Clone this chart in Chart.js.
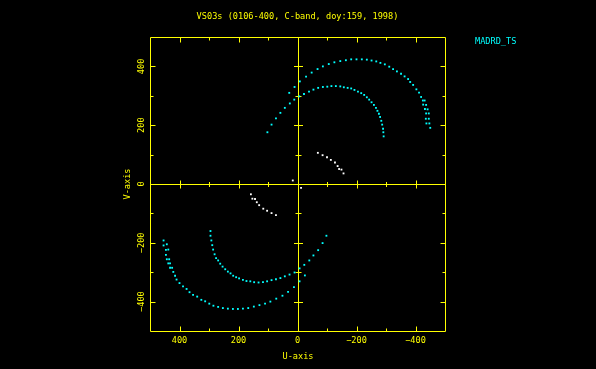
<!DOCTYPE html>
<html>
<head>
<meta charset="utf-8">
<script src="https://cdn.jsdelivr.net/npm/chart.js@4/dist/chart.umd.min.js"></script>
<style>
  html, body { margin: 0; padding: 0; background: #000; overflow: hidden; }
  #wrap { width: 596px; height: 369px; position: relative; }
</style>
</head>
<body>
<div id="wrap"><canvas id="uv"></canvas></div>
<script>
// uv coverage, VS03s  (u,v in the plot units)
var titulo = "VS03s (0106-400, C-band, doy:159, 1998)";
var estacion = "MADRD_TS";
var ejeU = "U-axis";
var ejeV = "V-axis";
var marcas = [-400, -200, 0, 200, 400];

// arco interior, mitad superior
var supIntU = [102, 88, 73, 58, 43, 26, 11, -6, -22, -39, -54, -70, -86, -101, -115, -130, -145, -157, -170, -182, -193, -205, -216, -226, -235, -243, -251, -259, -266, -271, -276, -280, -284, -287, -290, -291, -292];
var supIntV = [176, 202, 223, 242, 259, 274, 287, 298, 306, 314, 321, 327, 330, 331, 333, 333, 332, 329, 327, 325, 320, 314, 309, 303, 295, 287, 278, 269, 259, 249, 239, 228, 215, 202, 188, 176, 162];

// arco exterior, mitad superior
var supExtU = [28, 10, -8, -29, -48, -68, -86, -106, -125, -145, -164, -182, -200, -218, -235, -251, -267, -281, -296, -311, -324, -337, -351, -363, -375, -382, -392, -403, -412, -419, -425, -426, -432, -436, -435, -437, -450];
var supExtV = [310, 330, 349, 365, 379, 391, 400, 408, 414, 418, 421, 424, 424, 424, 423, 420, 417, 412, 407, 399, 391, 383, 375, 366, 357, 347, 337, 322, 311, 296, 284, 270, 255, 240, 222, 206, 191];
var supExt2U = [-431, -436, -441, -445, -445, -447];
var supExt2V = [284, 269, 254, 240, 222, 206];

// arco interior, mitad inferior
var infIntU = [295, 295, 292, 289, 286, 281, 276, 269, 262, 254, 245, 236, 227, 218, 208, 198, 185, 173, 160, 147, 132, 117, 103, 88, 73, 58, 43, 27, 10, -7, -23, -40, -54, -70, -85, -98];
var infIntV = [-160, -176, -192, -208, -223, -239, -252, -260, -271, -281, -290, -298, -304, -312, -317, -321, -326, -330, -331, -334, -335, -334, -331, -327, -324, -320, -314, -308, -301, -287, -275, -260, -243, -225, -201, -176];

// arco exterior, mitad inferior
var infExtU = [454, 454, 446, 446, 443, 438, 432, 421, 415, 410, 400, 388, 376, 366, 354, 340, 326, 313, 299, 285, 269, 253, 236, 219, 202, 185, 167, 148, 129, 110, 92, 72, 51, 32, 12, -7, -25];
var infExtV = [-192, -209, -224, -241, -256, -270, -285, -299, -312, -325, -337, -348, -357, -368, -377, -383, -394, -399, -407, -414, -418, -422, -424, -425, -425, -424, -422, -417, -412, -407, -400, -390, -380, -367, -351, -331, -311];
var infExt2U = [443, 438, 435, 432, 425];
var infExt2V = [-205, -223, -256, -270, -285];

// puntos blancos (linea corta)
var blancoU = [-69, -85, -100, -113, -127, -136, -141, -149, -156, 16, -12, 158, 153, 144, 138, 130, 116, 103, 88, 73];
var blancoV = [106, 98, 91, 82, 73, 61, 51, 49, 36, 12, -13, -35, -50, -51, -62, -72, -84, -91, -99, -106];

var AMARILLO = "#ffff00";
var CIAN = "#00ffff";
var BLANCO = "#ffffff";
var FAMILIA = "'DejaVu Sans Mono', 'Liberation Mono', monospace";
var FUENTE = "8.6px " + FAMILIA;

function juntar(u, v) {
  var out = [];
  for (var i = 0; i < u.length; i++) out.push({x: u[i], y: v[i]});
  return out;
}

function serie(nombre, u, v, color) {
  return {
    label: nombre,
    data: juntar(u, v),
    pointStyle: 'rect',
    pointRadius: 1.3,
    borderWidth: 0,
    backgroundColor: color,
    showLine: false
  };
}

//// marco, ejes centrales, marcas y textos al estilo pgplot
var marcoPgplot = {
  id: 'marcoPgplot',
  beforeDatasetsDraw: function (chart) {
    var ctx = chart.ctx, a = chart.chartArea;
    var sx = chart.scales.x, sy = chart.scales.y;
    var x0 = Math.round(sx.getPixelForValue(0)) + 0.5;
    var y0 = Math.round(sy.getPixelForValue(0)) + 0.5;
    var L = Math.round(a.left) + 0.5, R = Math.round(a.right) + 0.5;
    var T = Math.round(a.top) + 0.5, B = Math.round(a.bottom) + 0.5;
    ctx.save();
    ctx.strokeStyle = AMARILLO;
    ctx.lineWidth = 1;
    ctx.beginPath();
    ctx.rect(L, T, R - L, B - T);
    ctx.moveTo(x0, T); ctx.lineTo(x0, B);
    ctx.moveTo(L, y0); ctx.lineTo(R, y0);
    sx.ticks.forEach(function (t) {
      if (t.value <= -500 || t.value >= 500 || t.value === 0) return;
      var p = Math.round(sx.getPixelForValue(t.value)) + 0.5;
      var mayor = t.value % 200 === 0;
      var l = mayor ? 5 : 3, h = mayor ? 4 : 2.5;
      ctx.moveTo(p, B); ctx.lineTo(p, B - l);
      ctx.moveTo(p, T); ctx.lineTo(p, T + l);
      ctx.moveTo(p, y0 - h); ctx.lineTo(p, y0 + h);
    });
    sy.ticks.forEach(function (t) {
      if (t.value <= -500 || t.value >= 500 || t.value === 0) return;
      var p = Math.round(sy.getPixelForValue(t.value)) + 0.5;
      var mayor = t.value % 200 === 0;
      var l = mayor ? 5 : 3, h = mayor ? 4.5 : 3;
      ctx.moveTo(L, p); ctx.lineTo(L + l, p);
      ctx.moveTo(R, p); ctx.lineTo(R - l, p);
      ctx.moveTo(x0 - h, p); ctx.lineTo(x0 + h, p);
    });
    ctx.stroke();
    ctx.restore();
  },
  afterDraw: function (chart) {
    var ctx = chart.ctx, sy = chart.scales.y;
    ctx.save();
    ctx.font = FUENTE;
    ctx.fillStyle = AMARILLO;
    ctx.textAlign = 'center';
    ctx.textBaseline = 'middle';
    ctx.fillText(titulo, 297.5, 17);
    ctx.fillText(ejeU, 298, 357);
    // etiquetas del eje V, giradas
    marcas.forEach(function (m) {
      var p = sy.getPixelForValue(m);
      ctx.save();
      ctx.translate(142, p);
      ctx.rotate(-Math.PI / 2);
      ctx.fillText(String(m).replace('-', '\u2212'), 0, 0);
      ctx.restore();
    });
    ctx.save();
    ctx.translate(127.5, sy.getPixelForValue(0));
    ctx.rotate(-Math.PI / 2);
    ctx.fillText(ejeV, 0, 0);
    ctx.restore();
    ctx.fillStyle = CIAN;
    ctx.textAlign = 'left';
    ctx.fillText(estacion, 475, 42);
    ctx.restore();
  }
};

var ctx_uv = document.getElementById("uv").getContext("2d");

var grafico = new Chart(ctx_uv, {
  type: 'scatter',
  data: {
    datasets: [
      serie("blanco", blancoU, blancoV, BLANCO),
      serie("sup int", supIntU, supIntV, CIAN),
      serie("sup ext", supExtU, supExtV, CIAN),
      serie("sup ext 2", supExt2U, supExt2V, CIAN),
      serie("inf int", infIntU, infIntV, CIAN),
      serie("inf ext", infExtU, infExtV, CIAN),
      serie("inf ext 2", infExt2U, infExt2V, CIAN)
    ]
  },
  options: {
    responsive: true,
    maintainAspectRatio: false,
    animation: false,
    events: [],
    layout: { padding: { left: 0, right: 151, top: 37, bottom: 0 } },
    plugins: { legend: { display: false }, tooltip: { enabled: false } },
    scales: {
      x: {
        type: 'linear',
        reverse: true,
        min: -500,
        max: 500,
        afterFit: function (s) { s.height = 38; },
        grid: { display: false, drawTicks: false },
        border: { display: false },
        ticks: {
          stepSize: 100,
          autoSkip: false,
          maxRotation: 0,
          padding: 5,
          color: AMARILLO,
          font: { family: FAMILIA, size: 8.6 },
          callback: function (v) {
            return (v % 200 === 0 && Math.abs(v) < 500) ? String(v).replace('-', '\u2212') : '';
          }
        }
      },
      y: {
        type: 'linear',
        min: -500,
        max: 500,
        afterFit: function (s) { s.width = 150; },
        grid: { display: false, drawTicks: false },
        border: { display: false },
        ticks: { stepSize: 100, autoSkip: false, display: false }
      }
    }
  },
  plugins: [marcoPgplot]
});
</script>
</body>
</html>
